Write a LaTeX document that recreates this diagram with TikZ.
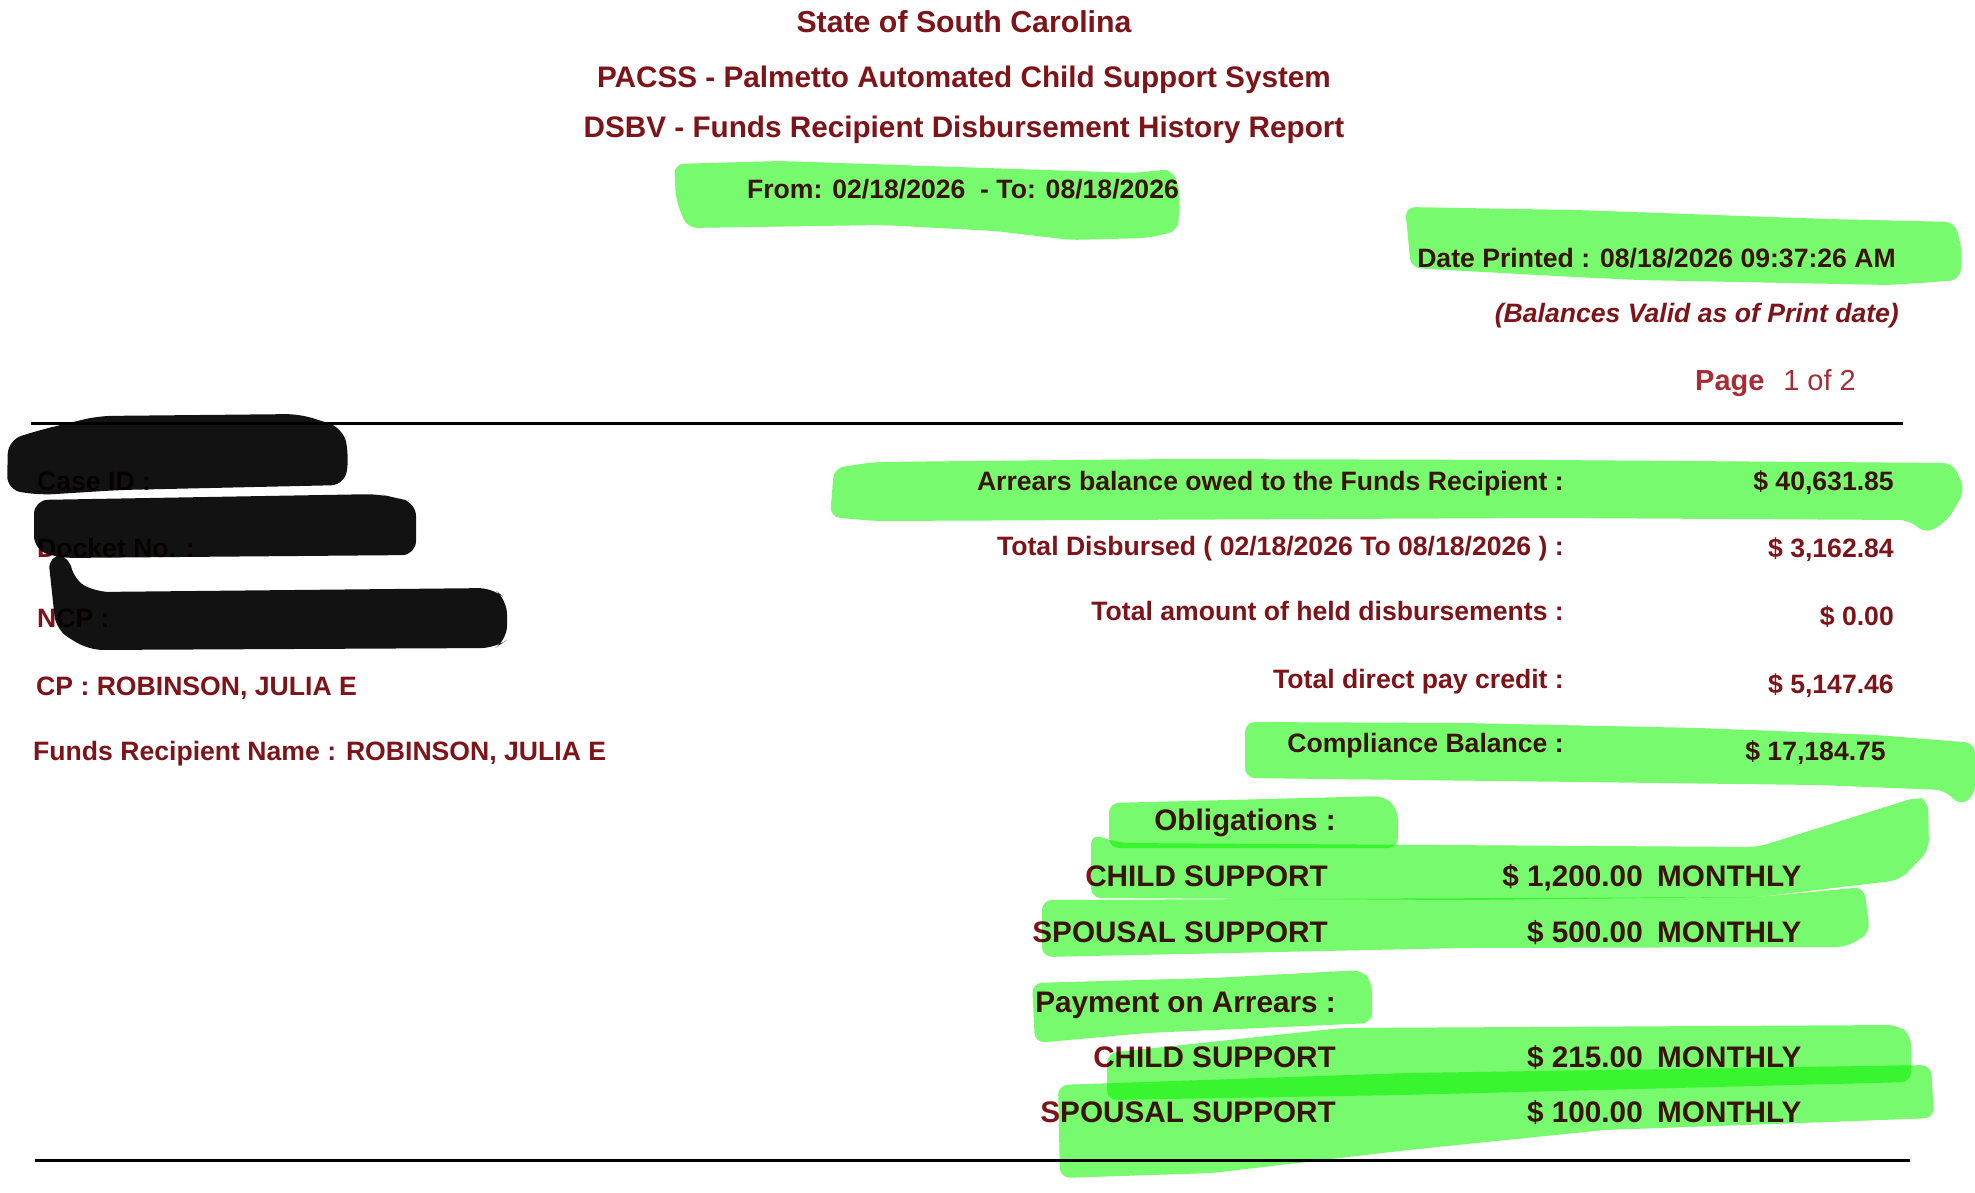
\documentclass[tikz,border=0pt]{standalone}
\usepackage{fontspec}
\setmainfont{Liberation Sans}
\definecolor{maroon}{RGB}{125,20,25}
\definecolor{pagered}{RGB}{165,45,55}
\definecolor{marker}{RGB}{120,250,110}
\tikzset{
  txt/.style={text=maroon,inner sep=0pt,font=\fontsize{26.6}{30}\selectfont\bfseries},
  big/.style={txt,font=\fontsize{29.7}{34}\selectfont\bfseries},
  hl/.style={fill=marker,draw=none,rounded corners=10pt,blend mode=multiply},
  redact/.style={fill=black,draw=none,rounded corners=14pt,fill opacity=0.93},
  rule/.style={line width=3pt,black},
}
\begin{document}
\begin{tikzpicture}[x=1pt,y=-1pt]
\useasboundingbox (0,0) rectangle (1975,1192);
% heading
\node[txt,font=\fontsize{30.3}{35}\selectfont\bfseries,anchor=base] (state) at (964,32) {State of South Carolina};
\node[big,anchor=base] (pacss) at (964,87) {PACSS - Palmetto Automated Child Support System};
\node[big,anchor=base] (dsbv) at (964,137) {DSBV - Funds Recipient Disbursement History Report};
\node[txt,anchor=base] (range) at (963,198) {From: 02/18/2026\ \ - To: 08/18/2026};
\node[txt,anchor=base east] (printed) at (1896,267) {Date Printed : 08/18/2026 09:37:26 AM};
\node[txt,font=\fontsize{26.6}{30}\selectfont\bfseries\itshape,anchor=base east] (valid) at (1899,322) {(Balances Valid as of Print date)};
\node[txt,text=pagered,font=\fontsize{29}{34}\selectfont\bfseries,anchor=base west] (page) at (1695,390) {Page};
\node[text=pagered,inner sep=0pt,font=\fontsize{29}{34}\selectfont,anchor=base east] (pagenum) at (1856,390) {1 of 2};
\coordinate (topl) at (31,423);
\coordinate (topr) at (1903,423);
\draw[rule] (topl) -- (topr);
% left column
\node[txt,anchor=base west] (caseid) at (37,490) {Case ID :};
\node[txt,anchor=base west] (docket) at (37,557) {Docket No. :};
\node[txt,anchor=base west] (ncp) at (37,627) {NCP :};
\node[txt,anchor=base west] (cp) at (36,695) {CP : ROBINSON, JULIA E};
\node[txt,anchor=base west] (recip) at (33,760) {Funds Recipient Name : ROBINSON, JULIA E};
% right column
\node[txt,anchor=base east] (arrears) at (1564,490) {Arrears balance owed to the Funds Recipient :};
\node[txt,anchor=base east] (arrears-v) at (1894,490) {\$ 40,631.85};
\node[txt,anchor=base east] (disb) at (1564,555) {Total Disbursed ( 02/18/2026 To 08/18/2026 ) :};
\node[txt,anchor=base east] (disb-v) at (1894,557) {\$ 3,162.84};
\node[txt,anchor=base east] (held) at (1564,620) {Total amount of held disbursements :};
\node[txt,anchor=base east] (held-v) at (1894,625) {\$ 0.00};
\node[txt,anchor=base east] (direct) at (1564,688) {Total direct pay credit :};
\node[txt,anchor=base east] (direct-v) at (1894,693) {\$ 5,147.46};
\node[txt,anchor=base east] (compl) at (1564,752) {Compliance Balance :};
\node[txt,anchor=base east] (compl-v) at (1886,760) {\$ 17,184.75};
% obligations
\node[big,anchor=base east] (oblig) at (1336,830) {Obligations :};
\node[big,anchor=base east] (payarr) at (1336,1012) {Payment on Arrears :};
\foreach \nm/\lab/\amt/\xr/\yb in {csa/CHILD SUPPORT/{1,200.00}/1328/886,
    ssa/SPOUSAL SUPPORT/500.00/1328/942,
    csb/CHILD SUPPORT/215.00/1336/1067,
    ssb/SPOUSAL SUPPORT/100.00/1336/1122}{
  \node[big,anchor=base east] (\nm) at (\xr,\yb) {\lab};
  \node[big,anchor=base east] (\nm-amt) at (1643,\yb) {\$ \amt};
  \node[big,anchor=base west] (\nm-per) at (1657,\yb) {MONTHLY};
}
\coordinate (botl) at (35,1160);
\coordinate (botr) at (1910,1160);
\draw[rule] (botl) -- (botr);
% marker strokes
\fill[hl] (674,164) -- (780,161) -- (1134,173) -- (1172,169) -- (1180,190) -- (1178,231) -- (1147,238) -- (1071,240) -- (995,231) -- (882,225) -- (687,228) -- (676,200) -- cycle;
\fill[hl] (1405,207) -- (1575,210) -- (1827,219) -- (1955,222) -- (1962,250) -- (1960,280) -- (1890,285) -- (1638,280) -- (1575,277) -- (1411,268) -- cycle;
\fill[hl] (834,468) -- (875,462) -- (1175,459) -- (1549,460) -- (1953,463) -- (1965,490) -- (1948,520) -- (1926,534) -- (1909,520) -- (1549,518) -- (875,521) -- (830,517) -- cycle;
\fill[hl] (1245,722) -- (1463,723) -- (1699,728) -- (1876,735) -- (1975,743) -- (1975,795) -- (1960,806) -- (1945,790) -- (1817,785) -- (1581,782) -- (1245,778) -- cycle;
\fill[hl] (1109,803) -- (1385,796) -- (1398,810) -- (1398,848) -- (1109,848) -- cycle;
\fill[hl] (1091,834) -- (1120,843) -- (1758,847) -- (1917,797) -- (1928,800) -- (1929,850) -- (1900,880) -- (1758,897) -- (1463,900) -- (1091,898) -- cycle;
\fill[hl] (1042,900) -- (1758,897) -- (1864,887) -- (1870,933) -- (1846,947) -- (1463,948) -- (1042,957) -- cycle;
\fill[hl] (1032,983) -- (1212,978) -- (1362,970) -- (1372,982) -- (1372,1023) -- (1146,1033) -- (1035,1043) -- cycle;
\fill[hl] (1107,1053) -- (1342,1028) -- (1898,1025) -- (1911,1035) -- (1911,1082) -- (1400,1095) -- (1107,1100) -- cycle;
\fill[hl] (1058,1085) -- (1408,1073) -- (1931,1065) -- (1934,1118) -- (1800,1123) -- (1604,1130) -- (1408,1150) -- (1212,1173) -- (1060,1178) -- cycle;
% redaction
\fill[redact] (8,440) -- (40,430) -- (98,416) -- (300,414) -- (343,428) -- (349,455) -- (345,485) -- (120,490) -- (40,495) -- (7,490) -- cycle;
\fill[redact] (34,500) -- (380,494) -- (395,498) -- (416,502) -- (416,555) -- (60,558) -- (34,550) -- cycle;
\fill[redact] (48,555) -- (70,555) -- (72,578) -- (95,592) -- (493,588) -- (507,600) -- (507,640) -- (495,648) -- (89,650) -- (56,630) -- cycle;
\end{tikzpicture}
\end{document}
